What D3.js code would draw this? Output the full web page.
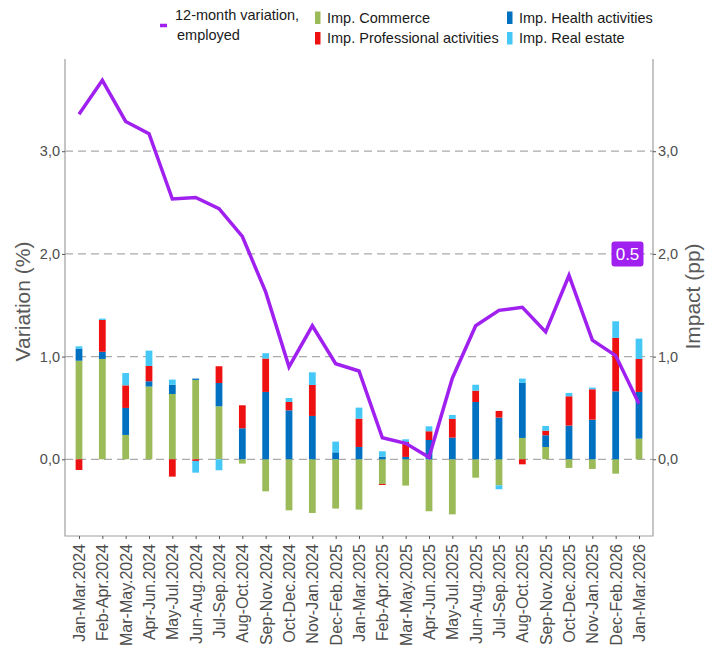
<!DOCTYPE html>
<html>
<head>
<meta charset="utf-8">
<script src="https://cdn.jsdelivr.net/npm/d3@7"></script>
<style>
  body { margin: 0; background: #fff; }
  svg { font-family: "Liberation Sans", Arial, sans-serif; }
</style>
</head>
<body>
<svg id="chart" width="717" height="659"></svg>
<script>
// periods (moving quarters)
const categories = ['Jan-Mar.2024', 'Feb-Apr.2024', 'Mar-May.2024', 'Apr-Jun.2024', 'May-Jul.2024',
  'Jun-Aug.2024', 'Jul-Sep.2024', 'Aug-Oct.2024', 'Sep-Nov.2024', 'Oct-Dec.2024', 'Nov-Jan.2024',
  'Dec-Feb.2025', 'Jan-Mar.2025', 'Feb-Apr.2025', 'Mar-May.2025', 'Apr-Jun.2025', 'May-Jul.2025',
  'Jun-Aug.2025', 'Jul-Sep.2025', 'Aug-Oct.2025', 'Sep-Nov.2025', 'Oct-Dec.2025', 'Nov-Jan.2025',
  'Dec-Feb.2026', 'Jan-Mar.2026'];

// 12-month variation of employed (%)
const employed = [3.36, 3.69, 3.29, 3.17, 2.535, 2.55, 2.44, 2.17, 1.63, 0.90, 1.30, 0.93, 0.86,
  0.21, 0.156, 0.02, 0.79, 1.30, 1.45, 1.48, 1.24, 1.79, 1.16, 1.01, 0.54];

// impacts (pp)
const commerce = [0.96, 0.977, 0.237, 0.708, 0.636, 0.773, 0.516, -0.042, -0.312, -0.497, -0.523,
  -0.48, -0.49, -0.24, -0.256, -0.506, -0.536, -0.179, -0.253, 0.208, 0.12, -0.084, -0.094, -0.14, 0.201];
const health = [0.115, 0.07, 0.263, 0.052, 0.091, 0.013, 0.227, 0.302, 0.656, 0.477, 0.422, 0.068,
  0.12, 0.026, 0.023, 0.188, 0.211, 0.558, 0.406, 0.536, 0.114, 0.328, 0.386, 0.662, 0.455];
const professional = [-0.104, 0.31, 0.22, 0.149, -0.169, -0.016, 0.163, 0.224, 0.325, 0.081, 0.302,
  0, 0.276, -0.01, 0.146, 0.085, 0.182, 0.11, 0.065, -0.049, 0.045, 0.286, 0.296, 0.52, 0.321];
const realEstate = [0.025, 0.013, 0.12, 0.149, 0.049, -0.114, -0.107, 0, 0.052, 0.039, 0.123, 0.104,
  0.107, 0.052, 0.026, 0.048, 0.039, 0.058, -0.039, 0.042, 0.046, 0.032, 0.016, 0.162, 0.198];

const yTicks = [0, 1, 2, 3];
const lastLabel = '0.5';

const keys = ['commerce', 'health', 'professional', 'realEstate'];
const colors = { commerce: '#9bbb59', health: '#0070c0', professional: '#ee1111', realEstate: '#45c8f5' };
const purple = '#a020f0';

const rows = categories.map((c, i) => ({
  cat: c, commerce: commerce[i], health: health[i], professional: professional[i], realEstate: realEstate[i]
}));

const pLeft = 65, pRight = 653, pTop = 59, pBottom = 536;
const svg = d3.select('#chart');

const x = d3.scalePoint().domain(categories).range([pLeft, pRight]).padding(0.6);
const y = d3.scaleLinear().domain([-0.747, 3.898]).range([pBottom, pTop]);
const barW = x.step() * 0.29;

// grid
svg.append('g').selectAll('line').data(yTicks).enter().append('line')
  .attr('x1', pLeft).attr('x2', pRight)
  .attr('y1', d => y(d)).attr('y2', d => y(d))
  .attr('stroke', '#aaaaaa').attr('stroke-width', 1.3)
  .attr('stroke-dasharray', '8,5');

// stacked bars
const series = d3.stack().keys(keys).offset(d3.stackOffsetDiverging)(rows);
svg.append('g').selectAll('g').data(series).enter().append('g')
  .attr('fill', d => colors[d.key])
  .selectAll('rect').data(d => d).enter().append('rect')
  .attr('x', d => x(d.data.cat) - barW / 2)
  .attr('width', barW)
  .attr('y', d => y(Math.max(d[0], d[1])))
  .attr('height', d => Math.abs(y(d[0]) - y(d[1])));

// line
const line = d3.line().x((d, i) => x(categories[i])).y(d => y(d));
svg.append('path').datum(employed)
  .attr('d', line)
  .attr('fill', 'none')
  .attr('stroke', purple)
  .attr('stroke-width', 3.5)
  .attr('stroke-linejoin', 'miter');

// panel border
const frame = svg.append('g').attr('stroke', '#a0a0a0').attr('stroke-width', 1.2).attr('fill', 'none');
frame.append('path').attr('d', `M${pLeft},${pTop}V${pBottom}H${pRight}V${pTop}`);

// axes
const fmt = d => d3.format('.1f')(d).replace('.', ',');
const yl = svg.append('g').attr('transform', `translate(${pLeft},0)`)
  .call(d3.axisLeft(y).tickValues(yTicks).tickFormat(fmt).tickSize(3).tickPadding(2));
const yr = svg.append('g').attr('transform', `translate(${pRight},0)`)
  .call(d3.axisRight(y).tickValues(yTicks).tickFormat(fmt).tickSize(3).tickPadding(2));
const xa = svg.append('g').attr('transform', `translate(0,${pBottom})`)
  .call(d3.axisBottom(x).tickSize(3));

[yl, yr, xa].forEach(a => {
  a.select('.domain').remove();
  a.selectAll('.tick line').attr('stroke', '#555').attr('stroke-width', 1);
  a.selectAll('.tick text').attr('fill', '#4d4d4d').style('font-size', '14.5px');
});
xa.selectAll('.tick text')
  .style('font-size', '16px')
  .attr('transform', 'rotate(-90)')
  .attr('text-anchor', 'end')
  .attr('x', -8).attr('y', 0).attr('dy', '0.35em');

// axis titles
svg.append('text').attr('transform', `translate(30,${(pTop + pBottom) / 2 + 4}) rotate(-90)`)
  .attr('text-anchor', 'middle').attr('fill', '#5a5a5a').style('font-size', '21px')
  .text('Variation (%)');
svg.append('text').attr('transform', `translate(700,${(pTop + pBottom) / 2 - 1}) rotate(-90)`)
  .attr('text-anchor', 'middle').attr('fill', '#5a5a5a').style('font-size', '21px')
  .text('Impact (pp)');

// value tag
const tagX = x(categories[categories.length - 1]) - 11.5, tagY = y(2);
svg.append('rect').attr('x', tagX - 16).attr('y', tagY - 12.5).attr('width', 32).attr('height', 25)
  .attr('rx', 3).attr('fill', purple);
svg.append('text').attr('x', tagX).attr('y', tagY).attr('dy', '0.36em')
  .attr('text-anchor', 'middle').attr('fill', '#fff').style('font-size', '17px').text(lastLabel);

// legend
const lg = svg.append('g').style('font-size', '14.5px').attr('fill', '#1a1a1a');
lg.append('line').attr('x1', 160).attr('x2', 167).attr('y1', 25.5).attr('y2', 25.5)
  .attr('stroke', purple).attr('stroke-width', 3.5);
lg.append('text').attr('x', 175).attr('y', 20).text('12-month variation,');
lg.append('text').attr('x', 177).attr('y', 40).text('employed');

const items = [
  { key: 'commerce', label: 'Imp. Commerce', x: 315, y: 11.5 },
  { key: 'professional', label: 'Imp. Professional activities', x: 315, y: 32 },
  { key: 'health', label: 'Imp. Health activities', x: 507, y: 11.5 },
  { key: 'realEstate', label: 'Imp. Real estate', x: 507, y: 32 }
];
items.forEach(it => {
  lg.append('rect').attr('x', it.x).attr('y', it.y).attr('width', 5.5).attr('height', 12.5)
    .attr('fill', colors[it.key]);
  lg.append('text').attr('x', it.x + 12).attr('y', it.y + 11).text(it.label);
});
</script>
</body>
</html>
